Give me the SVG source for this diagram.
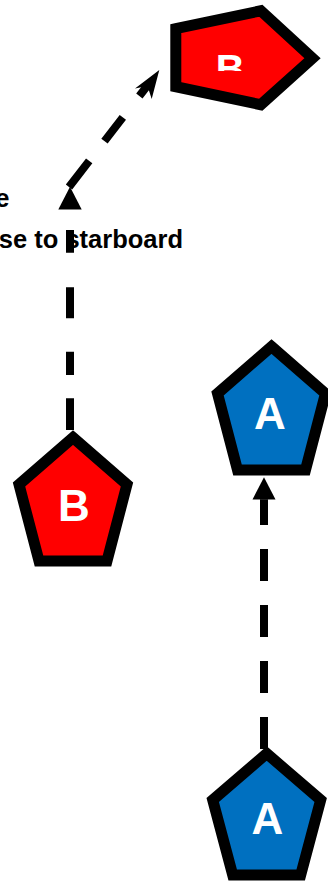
<svg xmlns="http://www.w3.org/2000/svg" width="328" height="881" viewBox="0 0 328 881">
<style>
.node{stroke:#000;stroke-width:11;stroke-linejoin:miter;stroke-miterlimit:10}
.red{fill:#FF0000}
.blue{fill:#0070C0}
.lbl{font-family:"Liberation Sans",Arial,sans-serif;font-weight:bold;fill:#fff;text-anchor:middle}
.edge{fill:none;stroke:#000;stroke-width:8;stroke-linecap:butt}
.head{fill:#000;stroke:none}
.txt{font-family:"Liberation Sans",Arial,sans-serif;font-weight:bold;font-size:25.5px;fill:#000;text-anchor:end}
</style>
<defs>
<clipPath id="clipB"><rect x="190" y="30" width="90" height="41"/></clipPath>
</defs>
<g id="connectors">
<path class="edge" d="M70,430 L70,209.5" stroke-dasharray="31.7 23.3 23.3 33.4 31 34.6 22.7 40"/>
<polygon class="head" points="70,186.7 81.7,209.5 58.3,209.5"/>
<path class="edge" d="M69,187 L147.5,85.5" stroke-dasharray="33 25 30 27 200"/>
<polygon class="head" points="159.3,70 151.7,99 147.5,86 135,88.5"/>
<path class="edge" d="M264,749 L264,499.3" stroke-dasharray="32 24"/>
<polygon class="head" points="264,477.3 275.5,499.5 252.5,499.5"/>
</g>
<g id="node-B-top">
<polygon class="node red" points="175.8,28.7 260.8,10.8 312.5,58.3 260.8,104.7 175.8,86.7"/>
<text class="lbl" x="230.3" y="82.6" font-size="40" clip-path="url(#clipB)">B</text>
</g>
<g id="node-B">
<polygon class="node red" points="73,437.5 127,484.5 107,561 39,561 19,484.5"/>
<text class="lbl" x="74" y="520.5" font-size="44">B</text>
</g>
<g id="node-A-top">
<polygon class="node blue" points="271.5,346.5 325.5,393.5 305.5,470 237.5,470 217.5,393.5"/>
<text class="lbl" x="270" y="429" font-size="44">A</text>
</g>
<g id="node-A-bottom">
<polygon class="node blue" points="266.7,753.5 320.7,800 300.7,875 232.7,875 212.7,800"/>
<text class="lbl" x="267.5" y="834.3" font-size="44">A</text>
</g>
<g id="label">
<text class="txt" x="9.5" y="206.5">e</text>
<text class="txt" x="183" y="247.5">se to starboard</text>
</g>
</svg>
